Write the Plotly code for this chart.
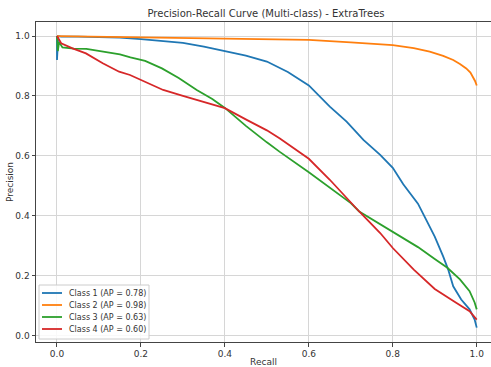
import plotly.graph_objects as go

# ---- data ----
labels = ["Class 1 (AP = 0.78)", "Class 2 (AP = 0.98)", "Class 3 (AP = 0.63)", "Class 4 (AP = 0.60)"]
colors = ["#1f77b4", "#ff7f0e", "#2ca02c", "#d62728"]

recall_1 = [0.0, 0.0, 0.003, 0.01, 0.05, 0.1, 0.15, 0.2, 0.25, 0.3, 0.35, 0.4, 0.45, 0.5, 0.53, 0.55,
            0.6, 0.65, 0.69, 0.73, 0.77, 0.8, 0.825, 0.86, 0.88, 0.9, 0.92, 0.932, 0.944, 0.963, 0.983, 0.995, 1.0]
precision_1 = [1.0, 0.92, 1.0, 0.998, 0.998, 0.997, 0.995, 0.99, 0.983, 0.977, 0.965, 0.95, 0.935, 0.915, 0.893, 0.88,
               0.835, 0.764, 0.714, 0.653, 0.603, 0.56, 0.505, 0.44, 0.385, 0.33, 0.264, 0.22, 0.164, 0.12, 0.087, 0.053, 0.026]

recall_2 = [0.0, 0.1, 0.2, 0.3, 0.4, 0.5, 0.6, 0.7, 0.8, 0.85, 0.888, 0.92, 0.944, 0.96, 0.975, 0.985, 0.991, 0.996, 1.0]
precision_2 = [1.0, 0.998, 0.996, 0.994, 0.992, 0.99, 0.987, 0.979, 0.97, 0.96, 0.948, 0.934, 0.92, 0.907, 0.892,
               0.878, 0.864, 0.85, 0.835]

recall_3 = [0.0, 0.002, 0.005, 0.013, 0.04, 0.07, 0.11, 0.15, 0.175, 0.21, 0.25, 0.29, 0.333, 0.37, 0.4, 0.45, 0.5,
            0.53, 0.6, 0.65, 0.7, 0.72, 0.76, 0.8, 0.86, 0.9, 0.93, 0.96, 0.983, 0.995, 1.0]
precision_3 = [1.0, 0.95, 0.98, 0.962, 0.958, 0.957, 0.948, 0.939, 0.929, 0.917, 0.892, 0.86, 0.82, 0.79, 0.76, 0.70,
               0.645, 0.614, 0.545, 0.495, 0.442, 0.414, 0.38, 0.348, 0.295, 0.255, 0.226, 0.187, 0.148, 0.11, 0.087]

recall_4 = [0.0, 0.005, 0.01, 0.037, 0.069, 0.109, 0.148, 0.174, 0.212, 0.253, 0.3, 0.333, 0.37, 0.4, 0.452, 0.5,
            0.531, 0.6, 0.65, 0.7, 0.72, 0.77, 0.8, 0.85, 0.9, 0.95, 0.983, 1.0]
precision_4 = [1.0, 0.99, 0.976, 0.959, 0.942, 0.909, 0.881, 0.87, 0.846, 0.82, 0.80, 0.787, 0.772, 0.759, 0.72, 0.685,
               0.658, 0.59, 0.52, 0.442, 0.414, 0.342, 0.292, 0.22, 0.155, 0.11, 0.081, 0.053]

tick_vals = [0.0, 0.2, 0.4, 0.6, 0.8, 1.0]
title_text = "Precision-Recall Curve (Multi-class) - ExtraTrees"
x_label = "Recall"
y_label = "Precision"

series = [(recall_1, precision_1), (recall_2, precision_2), (recall_3, precision_3), (recall_4, precision_4)]

# ---- figure ----
W, H = 491, 367
L, R, T, B = 36, 0, 22, 25
FONT = "DejaVu Sans"

fig = go.Figure()
for (rx, py), lab, col in zip(series, labels, colors):
    fig.add_trace(go.Scatter(x=rx, y=py, mode="lines", name=lab,
                             line=dict(color=col, width=1.8), showlegend=False))

pw, ph = W - L - R, H - T - B
def px2paper(x, y):
    return (x - L) / pw, (H - B - y) / ph

# manual legend (matplotlib style, lower left)
shapes = []
annotations = []
bx0, by0 = px2paper(39, 339)
bx1, by1 = px2paper(149, 285)
shapes.append(dict(type="rect", xref="paper", yref="paper", x0=bx0, y0=by0, x1=bx1, y1=by1,
                   line=dict(color="#cccccc", width=1), fillcolor="rgba(255,255,255,0.85)", layer="above"))
for i, (lab, col) in enumerate(zip(labels, colors)):
    yy = 293 + i * 12
    lx0, ly = px2paper(42, yy)
    lx1, _ = px2paper(62, yy)
    tx, _ = px2paper(67, yy)
    shapes.append(dict(type="line", xref="paper", yref="paper", x0=lx0, x1=lx1, y0=ly, y1=ly,
                       line=dict(color=col, width=1.8), layer="above"))
    annotations.append(dict(xref="paper", yref="paper", x=tx, y=ly, text=lab, showarrow=False,
                            xanchor="left", yanchor="middle", font=dict(size=8, color="#333333", family=FONT)))

axis_common = dict(showgrid=True, gridcolor="#d6d6d6", gridwidth=1, zeroline=False,
                   showline=True, linecolor="#444444", linewidth=1,
                   ticks="outside", ticklen=3.5, tickwidth=0.8, tickcolor="#444444",
                   tickvals=tick_vals, tickformat=".1f",
                   tickfont=dict(size=9, color="#333333", family=FONT))

fig.update_layout(
    width=W, height=H,
    margin=dict(l=L, r=R, t=T, b=B, autoexpand=False),
    paper_bgcolor="white", plot_bgcolor="white",
    font=dict(family=FONT, color="#333333"),
    title=dict(text=title_text, x=266 / W, xref="container", xanchor="center",
               y=1 - 13 / H, yref="container", yanchor="middle",
               font=dict(size=10, color="#333333", family=FONT)),
    xaxis=dict(range=[-0.05, 1.034], mirror=True, automargin=False,
               title=dict(text=x_label, font=dict(size=9, color="#333333", family=FONT), standoff=5),
               **axis_common),
    yaxis=dict(range=[-0.022, 1.047], mirror=False, automargin=False,
               title=dict(text=y_label, font=dict(size=9, color="#333333", family=FONT), standoff=0),
               **axis_common),
    shapes=shapes, annotations=annotations,
)

fig.write_html("out.html")
